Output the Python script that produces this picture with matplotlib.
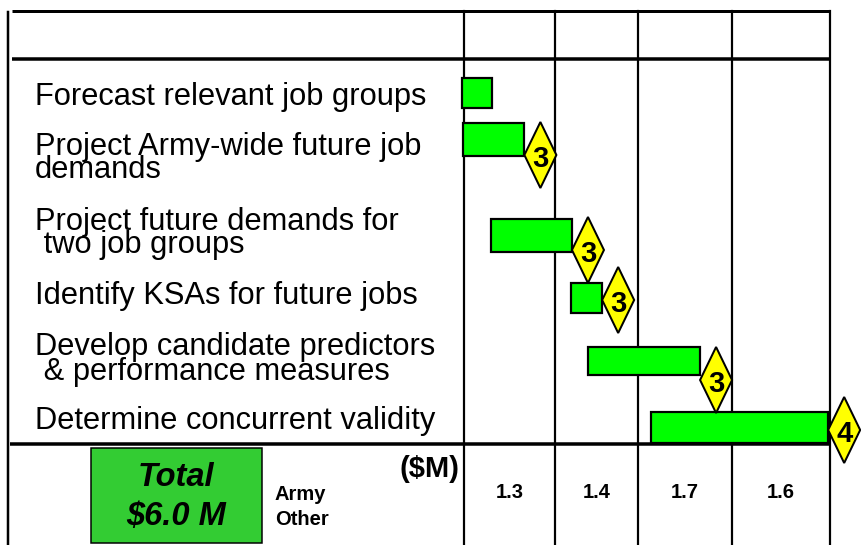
import matplotlib
matplotlib.use("Agg")
import matplotlib.pyplot as plt
from matplotlib.patches import Rectangle, Polygon

plt.rcParams["font.family"] = ["Liberation Sans", "DejaVu Sans"]

# ── data ──────────────────────────────────────────────────────────────
task_lines = [
    ["Forecast relevant job groups"],
    ["Project Army-wide future job", "demands"],
    ["Project future demands for", " two job groups"],
    ["Identify KSAs for future jobs"],
    ["Develop candidate predictors", " & performance measures"],
    ["Determine concurrent validity"],
]
# bar start / end in years from project start
bar_start = [-0.02, -0.01, 0.30, 1.17, 1.35, 2.04]
bar_end = [0.31, 0.66, 1.18, 1.51, 2.58, 3.98]
milestone = [None, "3", "3", "3", "3", "4"]

year_edges = [0.0, 0.995, 1.90, 2.93, 4.0]
cost_labels = ["1.3", "1.4", "1.7", "1.6"]
total_label = ["Total", r"\$6.0 M"]
source_labels = ["Army", "Other"]

# ── layout (pixel units, y downward) ─────────────────────────────────
W, H = 862, 545
X0, X1 = 464, 830          # timeline columns span
row_y = [93, 139.5, 235.5, 298, 361, 427.5]
row_h = [30, 33, 33, 30, 28, 31]
dia_y = [None, 155, 250, 300, 380, 430]
text_base = [[105], [155, 178], [230, 253], [304], [355, 380], [429]]
dia_w, dia_h = 32, 66

fig = plt.figure(figsize=(W / 100, H / 100), dpi=100)
ax = fig.add_axes([0, 0, 1, 1])
ax.set_xlim(0, W)
ax.set_ylim(H, 0)
ax.axis("off")

gx = fig.add_axes([X0 / W, 0, (X1 - X0) / W, 1])
gx.set_xlim(year_edges[0], year_edges[-1])
gx.set_ylim(H, 0)
gx.axis("off")
gx.patch.set_alpha(0)

px = 0.72  # points per pixel at 100 dpi

# frame
ax.plot([12, X1], [11, 11], color="black", lw=3 * px, solid_capstyle="butt")
ax.plot([12, X1], [59, 59], color="black", lw=3.5 * px, solid_capstyle="butt")
ax.plot([10, X1], [444, 444], color="black", lw=3.5 * px, solid_capstyle="butt")
ax.plot([8, 8], [12, H], color="black", lw=2.5 * px)
for e in year_edges:
    gx.plot([e, e], [11, H], color="black", lw=2.2 * px, zorder=1,
            clip_on=False)

# task labels
for lines, bases in zip(task_lines, text_base):
    for s, b in zip(lines, bases):
        ax.text(35, b, s, fontsize=22.2, va="baseline", ha="left")

# bars and milestones
yr_per_px = (year_edges[-1] - year_edges[0]) / (X1 - X0)
for i in range(len(bar_start)):
    gx.add_patch(Rectangle((bar_start[i], row_y[i] - row_h[i] / 2),
                           bar_end[i] - bar_start[i], row_h[i],
                           facecolor="#00FF00", edgecolor="black",
                           lw=2.2 * px, zorder=3, clip_on=False))
    if milestone[i] is not None:
        x = bar_end[i]
        w = dia_w * yr_per_px
        cy = dia_y[i]
        gx.add_patch(Polygon([(x, cy), (x + w / 2, cy - dia_h / 2),
                              (x + w, cy), (x + w / 2, cy + dia_h / 2)],
                             closed=True, facecolor="#FFFF00",
                             edgecolor="black", lw=2 * px, zorder=4,
                             clip_on=False))
        gx.text(x + w / 2, cy + 4, milestone[i], fontsize=21,
                fontweight="bold", ha="center", va="center", zorder=5,
                clip_on=False)

# bottom: totals
ax.add_patch(Rectangle((91, 448), 171, 95, facecolor="#33CC33",
                       edgecolor="black", lw=1.5 * px))
ax.text(176, 478, total_label[0], fontsize=23.5, fontweight="bold",
        fontstyle="italic", ha="center", va="center")
ax.text(176, 516, total_label[1], fontsize=23.5, fontweight="bold",
        fontstyle="italic", ha="center", va="center")
ax.text(275, 500, source_labels[0], fontsize=14.5, fontweight="bold",
        va="baseline")
ax.text(275, 525, source_labels[1], fontsize=14.5, fontweight="bold",
        va="baseline")
ax.text(460, 477, r"(\$M)", fontsize=21, fontweight="bold",
        ha="right", va="baseline")

for j, lab in enumerate(cost_labels):
    c = (year_edges[j] + year_edges[j + 1]) / 2
    gx.text(c, 493, lab, fontsize=14.5, fontweight="bold",
            ha="center", va="center")

fig.savefig("out.png", dpi=100)
